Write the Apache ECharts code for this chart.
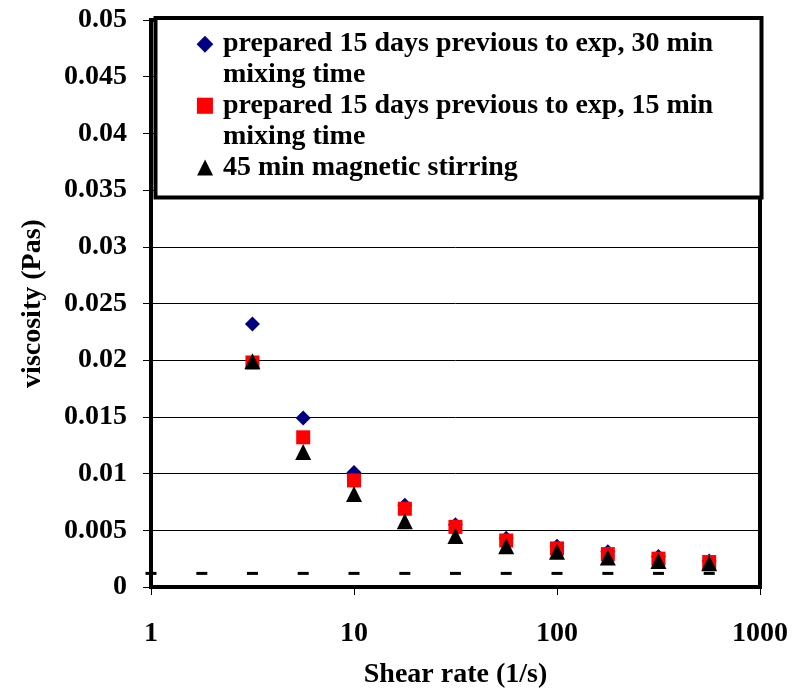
<!DOCTYPE html>
<html>
<head>
<meta charset="utf-8">
<script src="https://cdn.jsdelivr.net/npm/echarts@6/dist/echarts.min.js"></script>
<style>
  html, body { margin: 0; padding: 0; background: #fff; }
  #chart { width: 800px; height: 699px; }
</style>
</head>
<body>
<div id="chart"></div>
<script>
// Shear rates (1/s) at which viscosity was measured
const shearRates = [3.16, 5.62, 10, 17.8, 31.6, 56.2, 100, 178, 316, 562];

// Viscosity (Pa·s) for each sample preparation
const visc30minMix = [0.0232, 0.0149, 0.0101, 0.0072, 0.0055, 0.0043, 0.0036, 0.0031, 0.0027, 0.0023];
const visc15minMix = [0.0198, 0.0132, 0.0094, 0.0069, 0.0053, 0.0041, 0.0034, 0.0029, 0.0025, 0.0022];
const viscMagnetic = [0.0199, 0.0119, 0.0082, 0.0058, 0.0045, 0.0036, 0.0031, 0.0026, 0.0023, 0.0021];

// Reference level drawn as short dashes
const refRates = [1, 1.78, 3.16, 5.62, 10, 17.8, 31.6, 56.2, 100, 178, 316, 562];
const refViscosity = [0.0012, 0.0012, 0.0012, 0.0012, 0.0012, 0.0012, 0.0012, 0.0012, 0.0012, 0.0012, 0.0012, 0.0012];

// Series names and how each wraps inside the legend box
const seriesNames = [
  'prepared 15 days previous to exp, 30 min mixing time',
  'prepared 15 days previous to exp, 15 min mixing time',
  '45 min magnetic stirring'
];
const legendLines = [
  ['prepared 15 days previous to exp, 30 min', 'mixing time'],
  ['prepared 15 days previous to exp, 15 min', 'mixing time'],
  ['45 min magnetic stirring']
];
const legendGlyphs = ['\u25C6', '\u25A0', '\u25B2'];

const xAxisTitle = 'Shear rate (1/s)';
const yAxisTitle = 'viscosity (Pas)';

const FONT = 'Liberation Serif';
const pairs = (xs, ys) => xs.map((x, i) => [x, ys[i]]);

const chart = echarts.init(document.getElementById('chart'), null, { renderer: 'canvas' });

const glyphStyle = (color, size) => ({
  fontFamily: 'DejaVu Sans', fontSize: size, color: color,
  width: 36, align: 'center', lineHeight: 31
});

const option = {
  backgroundColor: '#ffffff',
  animation: false,
  textStyle: { fontFamily: FONT },
  grid: {
    left: 151, right: 40, top: 20, bottom: 112,
    show: true, borderColor: '#000', borderWidth: 4, backgroundColor: 'transparent'
  },
  xAxis: {
    type: 'log',
    logBase: 10,
    min: 1,
    max: 1000,
    name: xAxisTitle,
    nameLocation: 'middle',
    nameGap: 74,
    nameTextStyle: { fontFamily: FONT, fontWeight: 'bold', fontSize: 28, color: '#000' },
    axisLine: { show: true, lineStyle: { color: '#000', width: 4 } },
    axisTick: { show: true, inside: false, length: 8, lineStyle: { color: '#000', width: 1 } },
    minorTick: { show: false },
    axisLabel: {
      fontFamily: FONT, fontWeight: 'bold', fontSize: 28, color: '#000', margin: 33,
      formatter: v => String(Math.round(v))
    },
    splitLine: { show: false }
  },
  yAxis: {
    type: 'value',
    min: 0,
    max: 0.05,
    interval: 0.005,
    name: yAxisTitle,
    nameLocation: 'middle',
    nameGap: 104,
    nameRotate: 90,
    nameTextStyle: { fontFamily: FONT, fontWeight: 'bold', fontSize: 28, color: '#000' },
    axisLine: { show: true, lineStyle: { color: '#000', width: 4 } },
    axisTick: { show: true, inside: false, length: 8, lineStyle: { color: '#000', width: 1 } },
    axisLabel: {
      fontFamily: FONT, fontWeight: 'bold', fontSize: 28, color: '#000', margin: 24,
      formatter: v => String(+v.toFixed(3))
    },
    splitLine: { show: true, lineStyle: { color: '#000', width: 1 } }
  },
  legend: {
    show: true,
    data: seriesNames,
    orient: 'vertical',
    left: 182,
    top: 28.5,
    padding: 0,
    itemGap: 0,
    itemWidth: 0,
    itemHeight: 0,
    itemStyle: { opacity: 0 },
    selectedMode: false,
    z: 6,
    formatter: name => {
      const k = seriesNames.indexOf(name);
      return legendLines[k].map((line, i) =>
        (i === 0 ? '{ic' + k + '|' + legendGlyphs[k] + '}' : '{sp| }') + '{tx|' + line + '}'
      ).join('\n');
    },
    textStyle: {
      fontFamily: FONT, fontWeight: 'bold', fontSize: 28, color: '#000', lineHeight: 31,
      rich: {
        ic0: glyphStyle('#000080', 22),
        ic1: glyphStyle('#ff0000', 21),
        ic2: glyphStyle('#000000', 21),
        sp: { width: 36, lineHeight: 31, fontSize: 28 },
        tx: { fontFamily: FONT, fontWeight: 'bold', fontSize: 28, color: '#000', lineHeight: 31 }
      }
    }
  },
  graphic: [{
    type: 'rect',
    z: 4,
    shape: { x: 155.5, y: 18, width: 606, height: 179.5 },
    style: { fill: '#ffffff', stroke: '#000', lineWidth: 4 }
  }],
  series: [
    {
      name: seriesNames[0],
      type: 'scatter',
      data: pairs(shearRates, visc30minMix),
      symbol: 'diamond',
      symbolSize: [15, 15],
      itemStyle: { color: '#000080', opacity: 1 },
      z: 2
    },
    {
      name: seriesNames[1],
      type: 'scatter',
      data: pairs(shearRates, visc15minMix),
      symbol: 'rect',
      symbolSize: [14, 14],
      itemStyle: { color: '#ff0000', opacity: 1 },
      z: 3
    },
    {
      name: seriesNames[2],
      type: 'scatter',
      data: pairs(shearRates, viscMagnetic),
      symbol: 'triangle',
      symbolSize: [16, 16],
      itemStyle: { color: '#000000', opacity: 1 },
      z: 4
    },
    {
      name: 'reference',
      type: 'scatter',
      data: pairs(refRates, refViscosity),
      symbol: 'rect',
      symbolSize: [11, 3],
      itemStyle: { color: '#000000', opacity: 1 },
      z: 5
    }
  ]
};

chart.setOption(option);
</script>
</body>
</html>
